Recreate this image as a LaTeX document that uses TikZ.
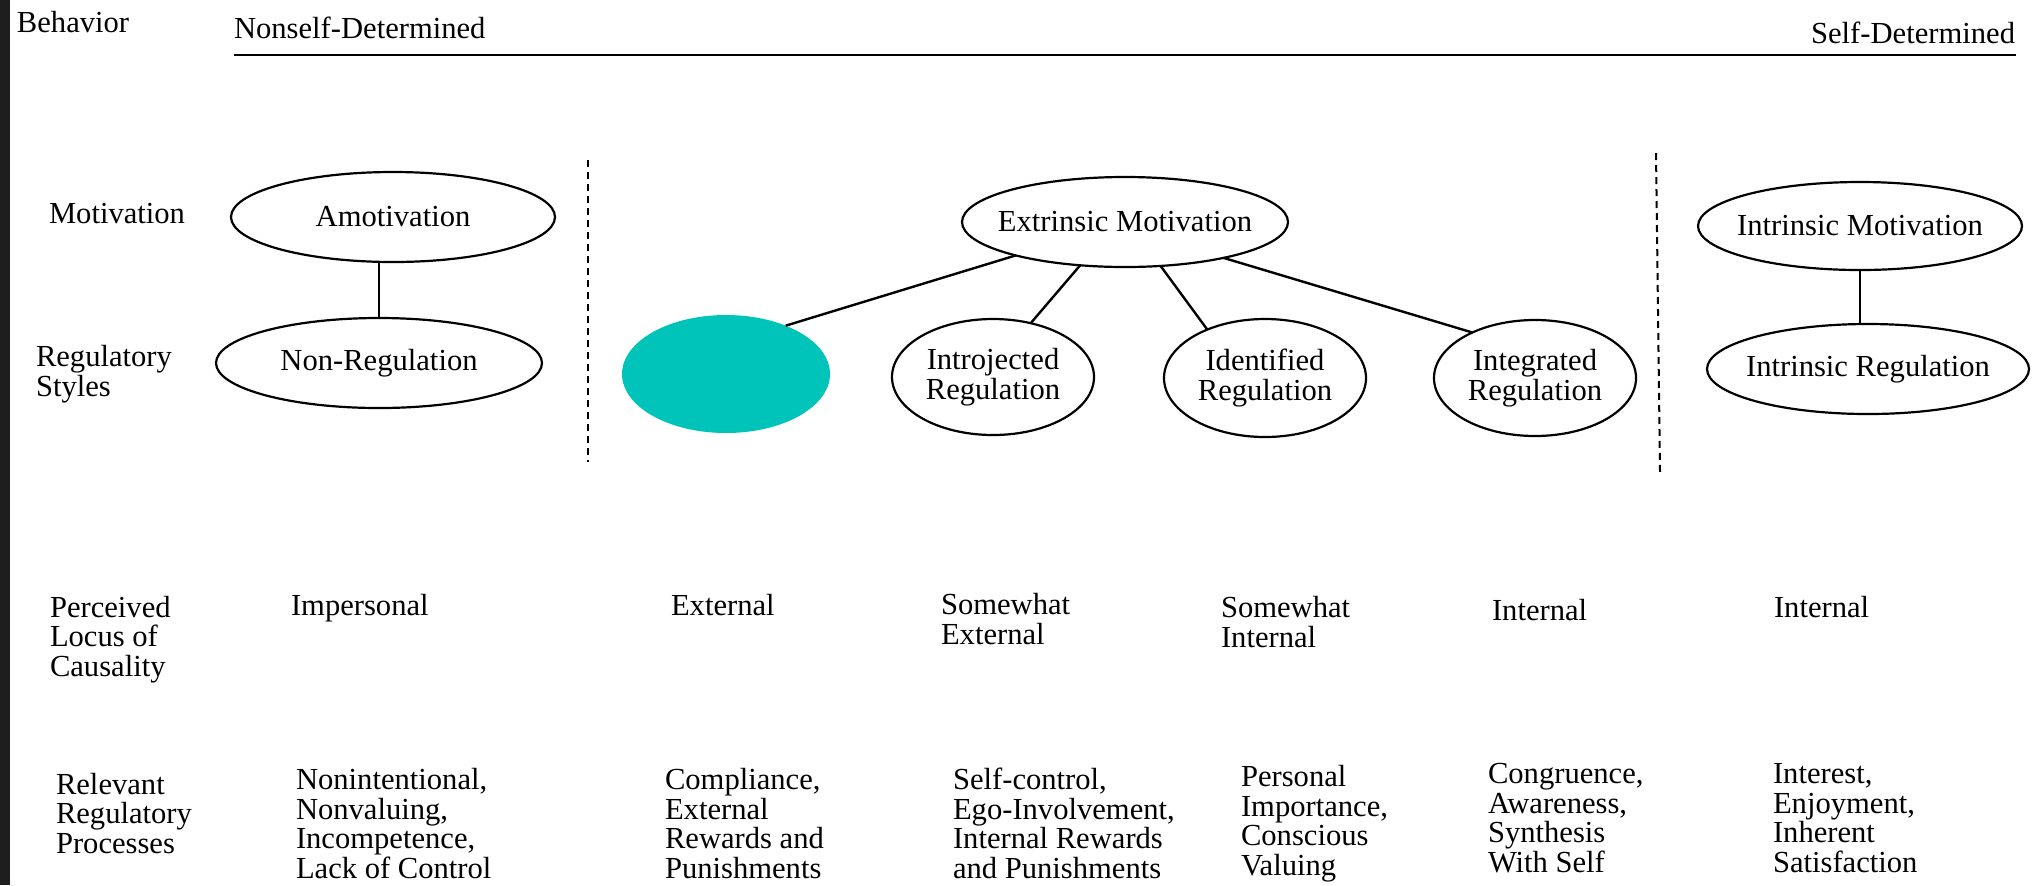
\documentclass[tikz,border=0pt]{standalone}
\usepackage{fontspec}
\setmainfont{Liberation Serif}
\usetikzlibrary{shapes.geometric}
\definecolor{tealfill}{RGB}{0,196,185}
\definecolor{stripgray}{RGB}{30,30,30}
\begin{document}
\begin{tikzpicture}[x=0.5pt,y=-0.5pt,
  every node/.style={font={\rmfamily\fontsize{15.3}{14.7}\selectfont}, inner sep=0pt, outer sep=0pt},
  oval/.style={ellipse, draw, line width=1.1pt, align=center, inner xsep=-12pt},
  lbl/.style={anchor=base west, align=left},
  conn/.style={line width=1.2pt},
  divider/.style={line width=1pt, dash pattern=on 3.5pt off 2.5pt}]
\useasboundingbox (0,0) rectangle (2032,885);
\fill[white] (0,0) rectangle (2032,885);
\fill[stripgray] (0,0) rectangle (10,885);

% header
\node[lbl] (behav) at (17,32) {Behavior};
\node[lbl] (nsd) at (234,38) {Nonself-Determined};
\node[anchor=base east] (sd) at (2015,43) {Self-Determined};
\coordinate (hl) at (234,55);
\coordinate (hr) at (2016,55);
\draw[line width=1.4pt] (hl) -- (hr);

% row labels (multi-line nodes are placed by the baseline of their last line)
\node[lbl] (motl) at (49,223) {Motivation};
\node[lbl] (rsl) at (36,396) {Regulatory\\Styles};
\node[lbl] (plc) at (50,676) {Perceived\\Locus of\\Causality};
\node[lbl] (rrp) at (56,853) {Relevant\\Regulatory\\Processes};

% dividers
\coordinate (d1t) at (588,160);
\coordinate (d1b) at (588,462);
\coordinate (d2t) at (1656,153);
\coordinate (d2b) at (1660,472);
\draw[divider] (d1t) -- (d1b);
\draw[divider] (d2t) -- (d2b);

% ellipses
\node[oval, minimum width=162pt, minimum height=45pt] (amo) at (393,217) {Amotivation};
\node[oval, minimum width=163pt, minimum height=45pt] (nonreg) at (379,363) {Non-Regulation};
\node[oval, minimum width=163pt, minimum height=45pt] (ext) at (1125,222) {Extrinsic Motivation};
\node[ellipse, fill=tealfill, minimum width=104pt, minimum height=59pt] (extreg) at (726,374) {};
\node[oval, minimum width=101pt, minimum height=58pt] (intro) at (993,377) {Introjected\\Regulation};
\node[oval, minimum width=101pt, minimum height=59pt] (ident) at (1265,378) {Identified\\Regulation};
\node[oval, minimum width=101pt, minimum height=58pt] (integ) at (1535,378) {Integrated\\Regulation};
\node[oval, minimum width=162pt, minimum height=44pt] (intrm) at (1860,226) {Intrinsic Motivation};
\node[oval, minimum width=161pt, minimum height=45pt] (intrr) at (1868,369) {Intrinsic Regulation};

% connectors
\draw[conn] (amo.south -| nonreg.north) -- (nonreg.north);
\draw[conn] (intrm.south) -- (intrm.south |- intrr.north);
\draw[conn] (ext.197) -- (extreg.39);
\draw[conn] (ext.224) -- (intro.55);
\draw[conn] (ext.309) -- (ident.140);
\draw[conn] (ext.340) -- (integ.144);

% locus of causality
\node[lbl] (l1) at (291,615) {Impersonal};
\node[lbl] (l2) at (671,615) {External};
\node[lbl] (l3) at (941,644) {Somewhat\\External};
\node[lbl] (l4) at (1221,647) {Somewhat\\Internal};
\node[lbl] (l5) at (1492,620) {Internal};
\node[lbl] (l6) at (1774,617) {Internal};

% processes
\node[lbl] (p1) at (296,878) {Nonintentional,\\Nonvaluing,\\Incompetence,\\Lack of Control};
\node[lbl] (p2) at (665,878) {Compliance,\\External\\Rewards and\\Punishments};
\node[lbl] (p3) at (953,878) {Self-control,\\Ego-Involvement,\\Internal Rewards\\and Punishments};
\node[lbl] (p4) at (1241,875) {Personal\\Importance,\\Conscious\\Valuing};
\node[lbl] (p5) at (1488,872) {Congruence,\\Awareness,\\Synthesis\\With Self};
\node[lbl] (p6) at (1773,872) {Interest,\\Enjoyment,\\Inherent\\Satisfaction};
\end{tikzpicture}
\end{document}
